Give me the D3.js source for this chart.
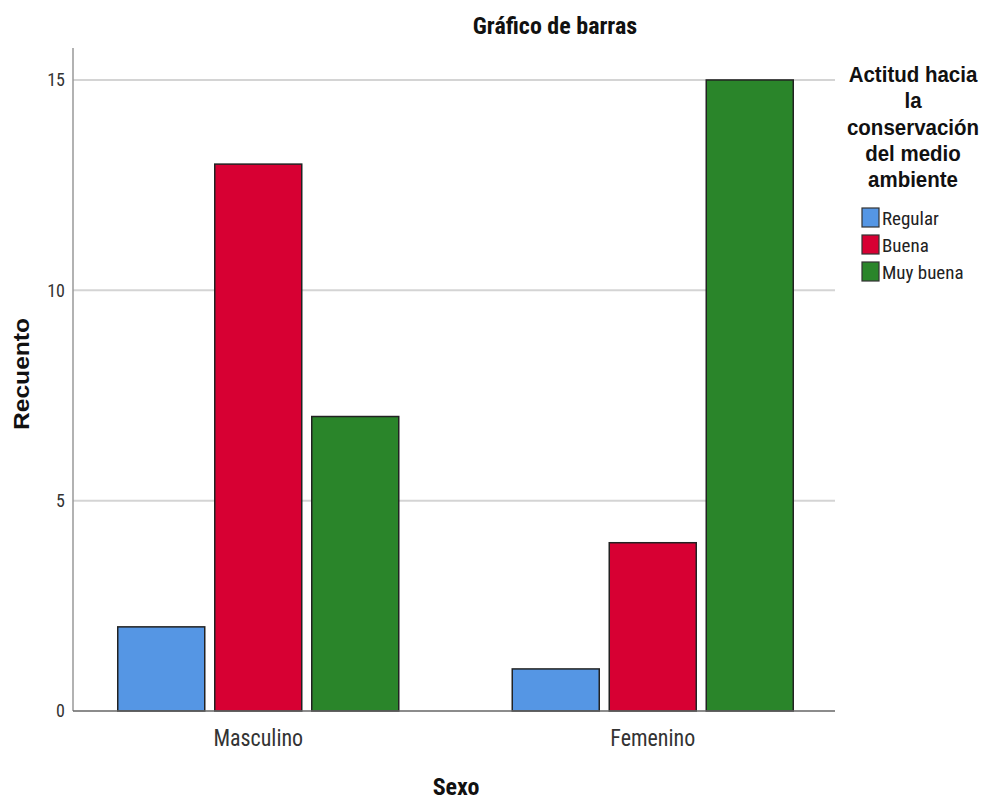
<!DOCTYPE html>
<html><head><meta charset="utf-8">
<script src="https://cdn.jsdelivr.net/npm/d3@7"></script>
<style>body{margin:0;background:#fff}</style>
</head><body>
<script>
const categories = ["Masculino", "Femenino"];
const series = ["Regular", "Buena", "Muy buena"];
const values = {
  "Regular": [2, 1],
  "Buena": [13, 4],
  "Muy buena": [7, 15]
};
const yTicks = [0, 5, 10, 15];
const colors = ["#5596e4", "#d70033", "#2a852a"];
const legendTitle = ["Actitud hacia", "la", "conservación", "del medio", "ambiente"];

(function () {
const W = 989, H = 801;
const narrow = "'Liberation Sans Narrow','Arial Narrow','Roboto Condensed',sans-serif";
const wide = "'Liberation Sans',Arial,sans-serif";
const svg = d3.select("body").append("svg").attr("width", W).attr("height", H);
const S = 1.12; // vertical stretch of the reference rendering

function label(x, y, txt, opts) {
  const t = svg.append("text")
    .attr("transform", opts.rotate ? `translate(${x},${y}) rotate(-90) scale(${S},1)` : `translate(${x},${y}) scale(1,${opts.s || S})`)
    .attr("text-anchor", opts.anchor || "middle")
    .attr("font-family", opts.family).attr("font-size", opts.size)
    .attr("font-weight", opts.weight || "normal").attr("fill", opts.fill || "#111")
    .text(txt);
  return t;
}

const pLeft = 73, pRight = 835, pTop = 48, pBase = 711;
const y = d3.scaleLinear().domain([0, 15.76]).range([pBase, pTop]);
const x = d3.scaleBand().domain(categories).range([61, 850]).padding(0);
const xi = d3.scaleBand().domain(series).range([-140.5, 140.5]).paddingInner(10/97).paddingOuter(0);
const color = d3.scaleOrdinal().domain(series).range(colors);

// gridlines
svg.append("g").selectAll("line").data(yTicks.filter(d => d > 0)).join("line")
  .attr("x1", pLeft).attr("x2", pRight).attr("y1", d => y(d)).attr("y2", d => y(d))
  .attr("stroke", "#d4d4d4").attr("stroke-width", 2);

// bars
const rows = [];
series.forEach(s => categories.forEach((c, i) => rows.push({s, c, v: values[s][i]})));
svg.append("g").selectAll("rect").data(rows).join("rect")
  .attr("x", d => x(d.c) + x.bandwidth()/2 + xi(d.s))
  .attr("width", xi.bandwidth())
  .attr("y", d => y(d.v))
  .attr("height", d => pBase - y(d.v))
  .attr("fill", d => color(d.s))
  .attr("stroke", "#222").attr("stroke-width", 1.5);

// y axis
const ya = d3.axisLeft(y).tickValues(yTicks).tickSize(0).tickPadding(8).tickFormat(d3.format("d"));
const yg = svg.append("g").attr("transform", `translate(${pLeft},0)`).call(ya);
yg.select(".domain").remove();
yg.selectAll("text").attr("font-family", narrow).attr("font-size", 18).attr("fill", "#333");
svg.append("line").attr("x1", pLeft).attr("x2", pLeft).attr("y1", pTop).attr("y2", pBase)
  .attr("stroke", "#999").attr("stroke-width", 1.5);

// x axis
const xa = d3.axisBottom(x).tickSize(0).tickPadding(16);
const xg = svg.append("g").attr("transform", `translate(0,${pBase})`).call(xa);
xg.select(".domain").remove();
xg.selectAll("text").attr("font-family", narrow).attr("font-size", 22).attr("fill", "#333")
  .attr("transform", `scale(1,${S})`);
svg.append("line").attr("x1", pLeft).attr("x2", pRight).attr("y1", pBase).attr("y2", pBase)
  .attr("stroke", "#666").attr("stroke-width", 1.5);

// titles
label(555, 34, "Gráfico de barras", {family: narrow, size: 24, weight: "bold", s: 1.02});
label(456, 795, "Sexo", {family: narrow, size: 24, weight: "bold", s: 0.98});
label(29, 374, "Recuento", {family: wide, size: 22, weight: "bold", rotate: true});

// legend
legendTitle.forEach((t, i) => label(913, 82 + i * 26.3, t, {family: wide, size: 20.5, weight: "bold"}));
const li = svg.append("g").selectAll("g.i").data(series).join("g").attr("class", "i")
  .attr("transform", (d, i) => `translate(862,${208 + i * 27})`);
li.append("rect").attr("width", 17).attr("height", 19).attr("fill", d => color(d))
  .attr("stroke", "#333").attr("stroke-width", 1.2);
li.append("text").attr("x", 20).attr("y", 17)
  .attr("font-family", narrow).attr("font-size", 19).attr("fill", "#222").text(d => d);
})();
</script>
</body></html>
